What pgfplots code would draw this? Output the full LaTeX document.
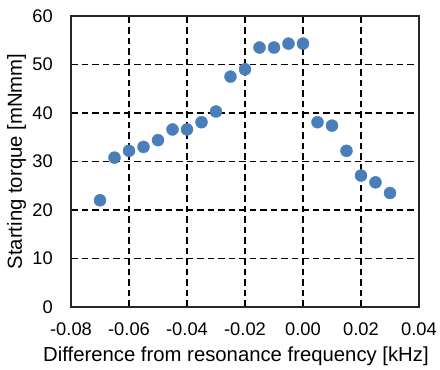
\documentclass[border=0pt]{standalone}
\usepackage{pgfplots}
\pgfplotsset{compat=1.18}
\usepackage{fontspec}
\setmainfont{Liberation Sans}
\definecolor{mblue}{HTML}{4A7EBB}
\begin{document}
\begin{tikzpicture}
\begin{axis}[
  name=ax,
  scale only axis, width=348pt, height=291pt,
  xmin=-0.08, xmax=0.04, ymin=0, ymax=60,
  xtick={-0.08,-0.06,...,0.04}, ytick={0,10,...,60},
  scaled x ticks=false,
  xticklabels={-0.08,-0.06,-0.04,-0.02,0.00,0.02,0.04},
  /pgf/number format/assume math mode=true,
  tick style={draw=none},
  grid=major,
  major grid style={black, line width=1.6pt, dash pattern=on 6.5pt off 4pt},
  axis line style={black!85, line width=1.8pt},
  tick label style={font=\fontsize{18.3}{21}\selectfont, inner sep=0pt},
  yticklabel style={anchor=east, xshift=-18pt},
  xticklabel style={anchor=north, yshift=-16pt},
  label style={font=\fontsize{20.3}{24}\selectfont, inner sep=0pt},
  xlabel={Difference from resonance frequency [kHz]},
  ylabel={Starting torque [mNmm]},
  xlabel style={anchor=north, at={(axis description cs:0.4741,-0.1375)}},
  ylabel style={anchor=north, at={(axis description cs:-0.1839,0.5)}},
]
\addplot[only marks, mark=*, mark size=6pt, mark options={fill=mblue, draw=mblue}] coordinates {
(-0.07,22.0) (-0.065,30.8) (-0.06,32.2) (-0.055,33.0) (-0.05,34.4) (-0.045,36.6)
(-0.04,36.6) (-0.035,38.1) (-0.03,40.3) (-0.025,47.5) (-0.02,49.0) (-0.015,53.5)
(-0.01,53.5) (-0.005,54.3) (0,54.3) (0.005,38.1) (0.01,37.4) (0.015,32.2)
(0.02,27.1) (0.025,25.7) (0.03,23.5)
};
\end{axis}
\pgfresetboundingbox
\path ([shift={(-71pt,-63pt)}]ax.south west) rectangle ([shift={(21pt,16pt)}]ax.north east);
\end{tikzpicture}
\end{document}
